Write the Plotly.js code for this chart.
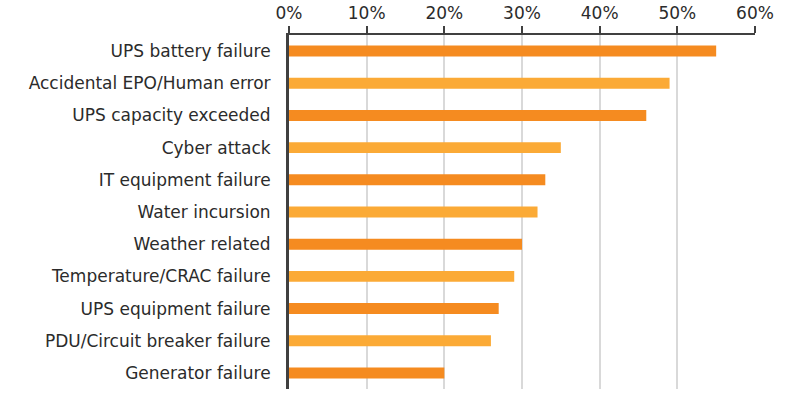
<!DOCTYPE html>
<html>
<head>
<meta charset="utf-8">
<script src="https://cdn.plot.ly/plotly-3.0.1.min.js"></script>
<style>html,body{margin:0;padding:0;background:#fff;}#chart{width:800px;height:400px;}</style>
</head>
<body>
<div id="chart"></div>
<script>
var categories = [
  "UPS battery failure",
  "Accidental EPO/Human error",
  "UPS capacity exceeded",
  "Cyber attack",
  "IT equipment failure",
  "Water incursion",
  "Weather related",
  "Temperature/CRAC failure",
  "UPS equipment failure",
  "PDU/Circuit breaker failure",
  "Generator failure"
];
var values = [55, 49, 46, 35, 33, 32, 30, 29, 27, 26, 20];
var barColors = ["#F58B20", "#FBAA36"];

var colors = categories.map(function(c, i){ return barColors[i % 2]; });

var trace = {
  type: "bar",
  orientation: "h",
  y: categories,
  x: values,
  width: 0.34,
  marker: {color: colors, line: {width: 0}},
  hoverinfo: "x+y"
};

var layout = {
  width: 800, height: 400,
  margin: {l: 289, r: 45, t: 35, b: 11, pad: 0},
  paper_bgcolor: "#fff", plot_bgcolor: "#fff",
  font: {family: "'DejaVu Sans', sans-serif", size: 17, color: "#2b2b2b"},
  showlegend: false,
  xaxis: {
    side: "top", range: [0, 60], dtick: 10, ticksuffix: "%",
    showgrid: true, gridcolor: "#d9d9d9", gridwidth: 2,
    zeroline: false,
    showline: true, linecolor: "#404040", linewidth: 2,
    ticks: "outside", ticklen: 7, tickwidth: 2, tickcolor: "#404040",
    tickfont: {size: 17, color: "#2b2b2b"},
    fixedrange: true
  },
  yaxis: {
    type: "category", range: [10.5, -0.5],
    showline: true, linecolor: "#404040", linewidth: 3,
    showgrid: false, zeroline: false,
    ticks: "outside", ticklen: 12, tickcolor: "rgba(0,0,0,0)",
    tickfont: {size: 17, color: "#2b2b2b"},
    fixedrange: true
  }
};

Plotly.newPlot("chart", [trace], layout, {displayModeBar: false, staticPlot: true});
</script>
</body>
</html>
